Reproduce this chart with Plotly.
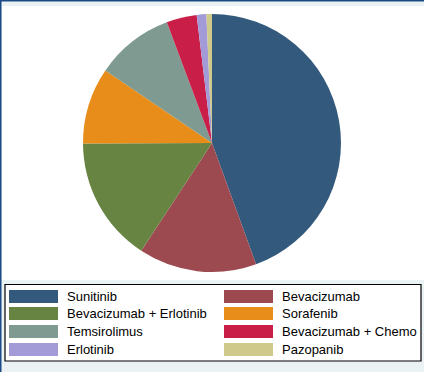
import plotly.graph_objects as go

labels = ["Sunitinib", "Bevacizumab", "Bevacizumab + Erlotinib", "Sorafenib",
          "Temsirolimus", "Bevacizumab + Chemo", "Erlotinib", "Pazopanib"]
values = [44.5, 14.8, 15.7, 9.6, 9.8, 3.8, 1.2, 0.7]
colors = ["#33597C", "#9C4A50", "#678443", "#E88C1A",
          "#7F9A90", "#C81E47", "#A39BD8", "#CFC98C"]

W, H = 424, 372
cx, cy, r = 212, 143, 129

def px(x):
    return x / W

def py(y):
    return 1 - y / H

fig = go.Figure(go.Pie(
    labels=labels, values=values, sort=False, direction="clockwise", rotation=0,
    marker=dict(colors=colors, line=dict(width=0)),
    textinfo="none", hoverinfo="label+percent",
    domain=dict(x=[px(cx - r), px(cx + r)], y=[py(cy + r), py(cy - r)]),
    showlegend=False,
))

shapes = [
    # white plot region
    dict(type="rect", xref="paper", yref="paper", x0=px(2), x1=px(W), y0=py(280), y1=py(6),
         fillcolor="white", line=dict(width=0), layer="below"),
    # window borders
    dict(type="rect", xref="paper", yref="paper", x0=0, x1=1, y0=py(1.5), y1=1,
         fillcolor="#1C4A87", line=dict(width=0)),
    dict(type="rect", xref="paper", yref="paper", x0=0, x1=px(1.5), y0=0, y1=1,
         fillcolor="#1C4A87", line=dict(width=0)),
    # legend box
    dict(type="rect", xref="paper", yref="paper", x0=px(5), x1=px(421), y0=py(361), y1=py(284.5),
         fillcolor="white", line=dict(color="black", width=1.2)),
]
annotations = []
col_sw = [9, 224]
col_tx = [64.5, 279.5]
row_y = [290, 307, 325, 343]
for i, (lab, col) in enumerate(zip(labels, colors)):
    c = i % 2
    rr = i // 2
    y0 = row_y[rr]
    shapes.append(dict(type="rect", xref="paper", yref="paper",
                       x0=px(col_sw[c]), x1=px(col_sw[c] + 49), y0=py(y0 + 13), y1=py(y0),
                       fillcolor=col, line=dict(width=0)))
    annotations.append(dict(xref="paper", yref="paper", x=px(col_tx[c]), y=py(y0 + 6.5),
                            text=lab, showarrow=False, xanchor="left", yanchor="middle",
                            font=dict(family="Liberation Sans, Arial", size=13, color="black")))

fig.update_layout(
    width=W, height=H, margin=dict(l=0, r=0, t=0, b=0),
    paper_bgcolor="#EAF2F3", plot_bgcolor="#EAF2F3",
    shapes=shapes, annotations=annotations, showlegend=False,
)
fig.write_html("out.html", config={"displayModeBar": False},
               post_script="document.body.style.margin='0';document.body.style.overflow='hidden';")
